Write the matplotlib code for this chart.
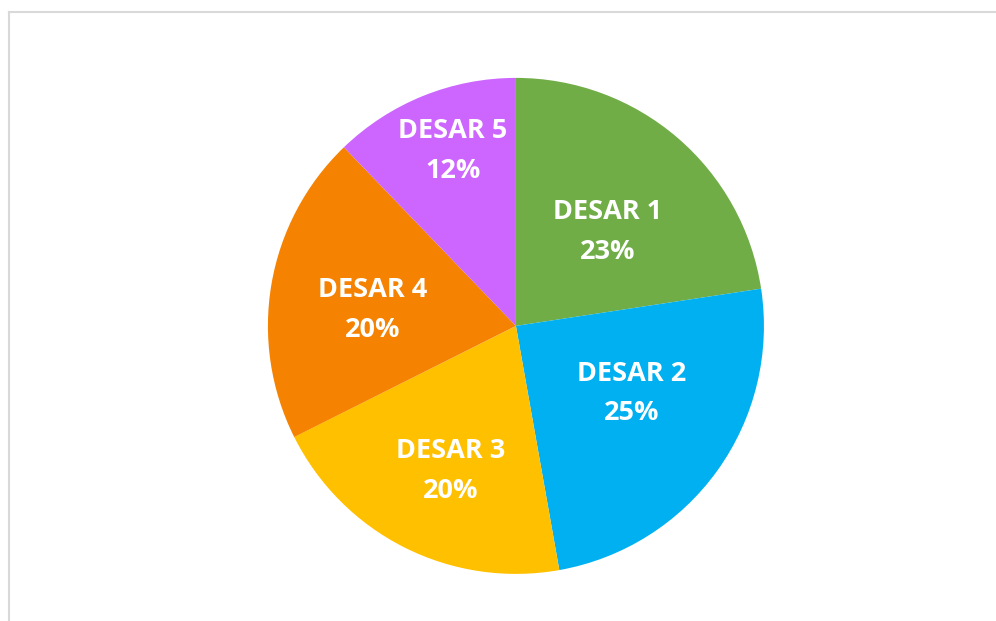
import matplotlib.pyplot as plt
import numpy as np
from matplotlib.lines import Line2D

# Data
labels = ['DESAR 1', 'DESAR 2', 'DESAR 3', 'DESAR 4', 'DESAR 5']
values = [22.6, 24.6, 20.4, 20.2, 12.2]
colors = ['#70AD47', '#00B0F0', '#FFC000', '#F58200', '#CC66FF']

# label placement: distance from centre (fraction of radius) and angle shift
label_r = [0.53, 0.54, 0.64, 0.58, 0.75]
label_shift = [-3.7, 5.4, 2.5, 3.3, -2.2]  # degrees

fig = plt.figure(figsize=(9.96, 6.21), dpi=100)
ax = fig.add_axes([0.269, 0.0757, 0.498, 0.799])

wedges, _ = ax.pie(values, colors=colors, startangle=90, counterclock=False,
                   radius=1, wedgeprops=dict(linewidth=0))

total = sum(values)
for w, lab, v, r, s in zip(wedges, labels, values, label_r, label_shift):
    ang = np.deg2rad((w.theta1 + w.theta2) / 2 + s)
    x, y = r * np.cos(ang), r * np.sin(ang)
    ax.text(x, y, f'{lab}\n{v / total * 100:.0f}%', ha='center', va='center',
            color='white', fontsize=19.5, fontweight='bold', family='Open Sans',
            linespacing=1.68)

ax.set_xlim(-1, 1)
ax.set_ylim(-1, 1)
ax.set_aspect('equal')
ax.axis('off')

# light frame around the chart area
frame_color = '#D9D9D9'
fig.add_artist(Line2D([9 / 996, 9 / 996], [0, 1 - 12 / 621], color=frame_color, lw=1.5))
fig.add_artist(Line2D([9 / 996, 1], [1 - 12 / 621, 1 - 12 / 621], color=frame_color, lw=1.5))

plt.savefig('out.png', dpi=100)
